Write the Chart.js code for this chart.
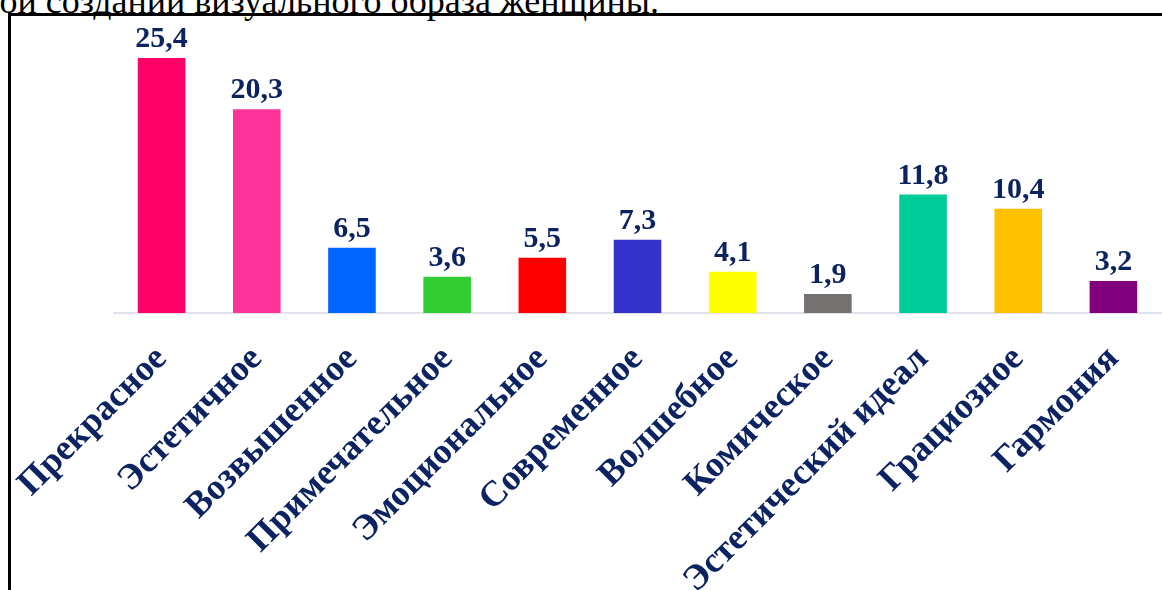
<!DOCTYPE html>
<html lang="ru">
<head>
<meta charset="utf-8">
<script src="https://cdn.jsdelivr.net/npm/chart.js@4.4.1/dist/chart.umd.min.js"></script>
<style>
  html, body { margin: 0; padding: 0; background: #fff; overflow: hidden; }
  body { width: 1162px; height: 590px; position: relative; }
  #caption {
    position: absolute; right: 503px; top: -20px;
    font: 36px "Liberation Serif", "Times New Roman", serif;
    color: #000; white-space: nowrap;
  }
  #frame {
    position: absolute; left: 8px; top: 13px; width: 1200px; height: 700px;
    border-left: 3px solid #000; border-top: 3px solid #000;
  }
  #chart { position: absolute; left: 0; top: 0; }
</style>
</head>
<body>
<div id="caption">ой создании визуального образа женщины.</div>
<div id="frame"></div>
<canvas id="chart" width="1162" height="590"></canvas>

<script>
// categories
const categories = [
  "Прекрасное", "Эстетичное", "Возвышенное", "Примечательное", "Эмоциональное",
  "Современное", "Волшебное", "Комическое", "Эстетический идеал", "Грациозное", "Гармония"
];
// values, %
const values = [25.4, 20.3, 6.5, 3.6, 5.5, 7.3, 4.1, 1.9, 11.8, 10.4, 3.2];
// bar colours
const barColors = [
  "#FF0066", "#FF3399", "#0066FF", "#33CC33", "#FF0000",
  "#3333CC", "#FFFF00", "#767171", "#00CC99", "#FFC000", "#800080"
];

const NAVY = "#0B2361";
const SERIF = '"Liberation Serif", "Times New Roman", serif';

// value labels above bars (decimal comma)
const valueLabels = {
  id: "valueLabels",
  afterDatasetsDraw(chart) {
    const { ctx } = chart;
    const meta = chart.getDatasetMeta(0);
    ctx.save();
    ctx.font = "bold 30px " + SERIF;
    ctx.fillStyle = NAVY;
    ctx.textAlign = "center";
    ctx.textBaseline = "alphabetic";
    meta.data.forEach((bar, i) => {
      const txt = values[i].toFixed(1).replace(".", ",");
      ctx.fillText(txt, bar.x, bar.y - 11);
    });
    ctx.restore();
  }
};

new Chart(document.getElementById("chart"), {
  type: "bar",
  data: {
    labels: categories,
    datasets: [{
      data: values,
      backgroundColor: barColors,
      borderWidth: 0,
      barPercentage: 0.5,
      categoryPercentage: 1.0
    }]
  },
  options: {
    responsive: false,
    animation: false,
    layout: { padding: { left: 114, right: 1, top: 32, bottom: 0 } },
    plugins: {
      legend: { display: false },
      tooltip: { enabled: false }
    },
    scales: {
      x: {
        grid: { display: false, drawTicks: false },
        border: { display: true, color: "#E2E2EA", width: 2 },
        ticks: {
          color: NAVY,
          font: { family: SERIF, size: 36, weight: "bold" },
          minRotation: 45,
          maxRotation: 45,
          autoSkip: false,
          padding: 25
        },
        afterFit(scale) {
          scale.height = 590 - 313;
          // labels may hang past the plot edges, keep plot width fixed
          scale.paddingLeft = 0;
          scale.paddingRight = 0;
        }
      },
      y: {
        display: false,
        min: 0,
        max: 28
      }
    }
  },
  plugins: [valueLabels]
});
</script>
</body>
</html>
